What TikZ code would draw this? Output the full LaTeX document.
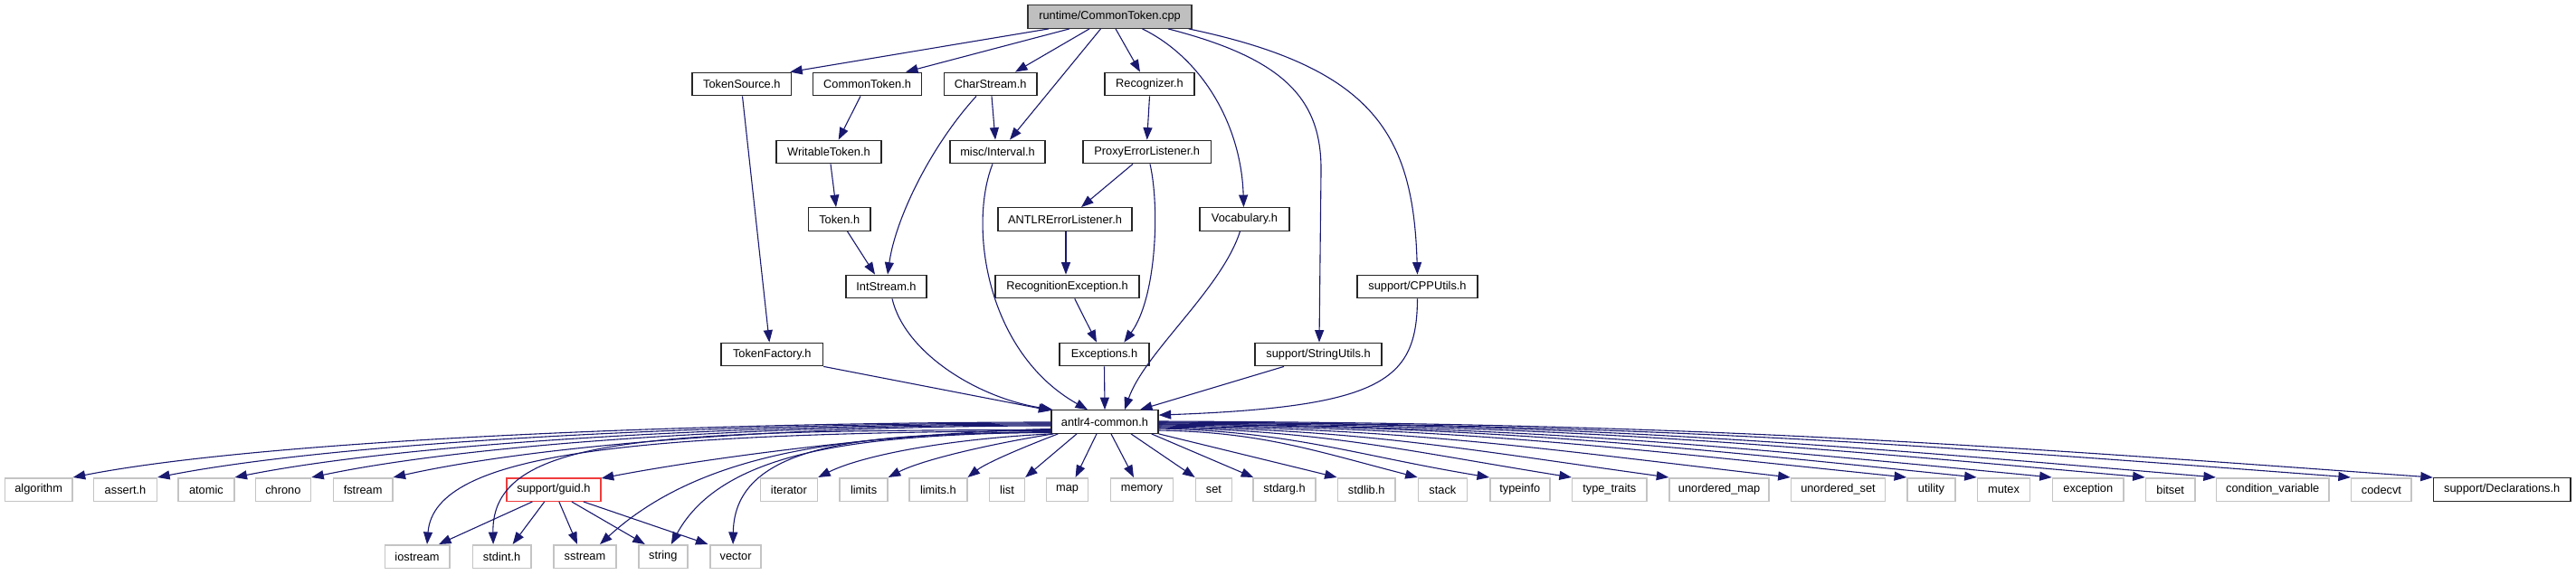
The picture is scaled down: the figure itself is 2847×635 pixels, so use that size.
\documentclass[tikz,border=0pt]{standalone}
\usepackage{fontspec}
\setmainfont{Liberation Sans}
\usetikzlibrary{arrows.meta}
\definecolor{edgec}{HTML}{191970}
\definecolor{grayb}{HTML}{C4C4C4}
\definecolor{redb}{HTML}{F03C3C}
\definecolor{rootf}{HTML}{BFBFBF}
\begin{document}
\begin{tikzpicture}[x=1pt,y=-1pt,
  every node/.style={font=\fontsize{12.8}{15}\selectfont, inner sep=0pt, minimum height=25.5pt, rectangle, anchor=center},
  doc/.style={draw=black!85, line width=1.3pt, fill=white},
  sys/.style={draw=grayb, line width=1.5pt, fill=white},
  trunc/.style={draw=redb, line width=1.5pt, fill=white},
  rootn/.style={draw=black!80, line width=1.3pt, fill=rootf},
  edge/.style={draw=edgec, line width=1.1pt, -{Triangle[length=13.5pt,width=10pt]}},
]
\useasboundingbox (0,0) rectangle (2847,635);

% row 0
\node[rootn, minimum width=181pt] (root) at (1226.5,18.5) {runtime/CommonToken.cpp};
% row 1
\node[doc, minimum width=109.5pt] (tsrc) at (819.8,93) {TokenSource.h};
\node[doc, minimum width=120pt] (ctok) at (958.6,93) {CommonToken.h};
\node[doc, minimum width=102.7pt] (chs) at (1094.7,93) {CharStream.h};
\node[doc, minimum width=99pt] (rec) at (1270.5,93) {Recognizer.h};
% row 2
\node[doc, minimum width=116pt] (wtok) at (916,168) {WritableToken.h};
\node[doc, minimum width=105pt] (intv) at (1102.5,168) {misc/Interval.h};
\node[doc, minimum width=141.5pt] (pel) at (1267.7,168) {ProxyErrorListener.h};
% row 3
\node[doc, minimum width=68.5pt] (tok) at (927.7,242.5) {Token.h};
\node[doc, minimum width=148pt] (ael) at (1177,242.5) {ANTLRErrorListener.h};
\node[doc, minimum width=99pt] (voc) at (1375.5,242.5) {Vocabulary.h};
% row 4
\node[doc, minimum width=89pt] (ints) at (979.5,317) {IntStream.h};
\node[doc, minimum width=159pt] (recex) at (1179.5,317) {RecognitionException.h};
\node[doc, minimum width=133pt] (cpp) at (1566.5,317) {support/CPPUtils.h};
% row 5
\node[doc, minimum width=112.6pt] (tfac) at (853.3,392) {TokenFactory.h};
\node[doc, minimum width=99pt] (exc) at (1220.5,392) {Exceptions.h};
\node[doc, minimum width=140pt] (sut) at (1457,392) {support/StringUtils.h};
% row 6
\node[doc, minimum width=118pt] (ac) at (1221,466.5) {antlr4-common.h};
% row 7
\node[sys, minimum width=74.5pt] (algorithm) at (42.7,541.5) {algorithm};
\node[sys, minimum width=69.7pt] (assert) at (138.5,541.5) {assert.h};
\node[sys, minimum width=61.7pt] (atomic) at (227.9,541.5) {atomic};
\node[sys, minimum width=61.2pt] (chrono) at (312.9,541.5) {chrono};
\node[sys, minimum width=65.4pt] (fstream) at (401.1,541.5) {fstream};
\node[trunc, minimum width=104.2pt] (guid) at (611.9,541.5) {support/guid.h};
\node[sys, minimum width=63.1pt] (iterator) at (871.9,541.5) {iterator};
\node[sys, minimum width=52.8pt] (limits) at (954.6,541.5) {limits};
\node[sys, minimum width=63.7pt] (limitsh) at (1036.9,541.5) {limits.h};
\node[sys, minimum width=38.8pt] (list) at (1113,541.5) {list};
\node[sys, minimum width=46pt] (map) at (1179.6,541.5) {map};
\node[sys, minimum width=69.1pt] (memory) at (1262,541.5) {memory};
\node[sys, minimum width=40pt] (set) at (1341.4,541.5) {set};
\node[sys, minimum width=69pt] (stdarg) at (1419.5,541.5) {stdarg.h};
\node[sys, minimum width=63.7pt] (stdlib) at (1510.2,541.5) {stdlib.h};
\node[sys, minimum width=53.9pt] (stack) at (1594.4,541.5) {stack};
\node[sys, minimum width=66.1pt] (typeinfo) at (1679.8,541.5) {typeinfo};
\node[sys, minimum width=82.4pt] (typetraits) at (1778.8,541.5) {type\_traits};
\node[sys, minimum width=110.2pt] (umap) at (1900.1,541.5) {unordered\_map};
\node[sys, minimum width=104.2pt] (uset) at (2031.5,541.5) {unordered\_set};
\node[sys, minimum width=53.4pt] (utility) at (2134.5,541.5) {utility};
\node[sys, minimum width=58.2pt] (mutex) at (2214.5,541.5) {mutex};
\node[sys, minimum width=78.8pt] (exception) at (2307.8,541.5) {exception};
\node[sys, minimum width=54.6pt] (bitset) at (2398.7,541.5) {bitset};
\node[sys, minimum width=124.2pt] (condvar) at (2511.7,541.5) {condition\_variable};
\node[sys, minimum width=66.6pt] (codecvt) at (2631.9,541.5) {codecvt};
\node[doc, minimum width=151.5pt] (decl) at (2765.2,541.5) {support/Declarations.h};
% row 8
\node[sys, minimum width=71.5pt] (iostream) at (461,615.5) {iostream};
\node[sys, minimum width=64.7pt] (stdint) at (554.6,615.5) {stdint.h};
\node[sys, minimum width=69pt] (sstream) at (646.5,615.5) {sstream};
\node[sys, minimum width=54pt] (string) at (732.8,615.5) {string};
\node[sys, minimum width=55.8pt] (vector) at (813.1,615.5) {vector};

% edges from root
\draw[edge] ([xshift=-67.5pt]root.south) -- ([xshift=-2pt]tsrc.north east);
\draw[edge] ([xshift=-44.5pt]root.south) -- ([xshift=42.4pt]ctok.north);
\draw[edge] ([xshift=-22.5pt]root.south) -- ([xshift=27.3pt]chs.north);
\draw[edge] ([xshift=-10pt]root.south) -- ([xshift=13.5pt]intv.north);
\draw[edge] ([xshift=6.5pt]root.south) -- ([xshift=-10.5pt]rec.north);
\draw[edge] ([xshift=36pt]root.south) .. controls (1330,65) and (1372,140) .. ([xshift=-1pt]voc.north);
\draw[edge] ([xshift=64.5pt]root.south) .. controls (1420,65) and (1461,110) .. (1460,190) -- ([xshift=1pt]sut.north);
\draw[edge] ([xshift=-4pt]root.south east) .. controls (1520,75) and (1562,150) .. (cpp.north);

% middle edges
\draw[edge] ([xshift=0.7pt]tsrc.south) -- ([xshift=-3pt]tfac.north);
\draw[edge] ([xshift=-7.6pt]ctok.south) -- ([xshift=10.7pt]wtok.north);
\draw[edge] ([xshift=2pt]wtok.south) -- ([xshift=-3.7pt]tok.north);
\draw[edge] ([xshift=8.8pt]tok.south) -- ([xshift=-12.5pt]ints.north);
\draw[edge] ([xshift=-15.7pt]chs.south) .. controls (1030,160) and (990,240) .. ([xshift=1.5pt]ints.north);
\draw[edge] ([xshift=1.3pt]chs.south) -- ([xshift=-2.5pt]intv.north);
\draw[edge] (rec.south) -- (pel.north);
\draw[edge] ([xshift=-15.7pt]pel.south) -- ([xshift=18pt]ael.north);
\draw[edge] ([xshift=3.3pt]pel.south) .. controls (1282,230) and (1278,330) .. ([xshift=21.8pt]exc.north);
\draw[edge] ([xshift=1pt]ael.south) -- ([xshift=-1.5pt]recex.north);
\draw[edge] ([xshift=8.2pt]recex.south) -- ([xshift=-8.5pt]exc.north);
\draw[edge] ([xshift=-5.5pt]intv.south) .. controls (1070,250) and (1090,390) .. ([xshift=-19pt]ac.north);
\draw[edge] ([xshift=-5pt]voc.south) .. controls (1350,320) and (1265,390) .. ([xshift=22pt]ac.north);
\draw[edge] ([xshift=6.5pt]ints.south) .. controls (1000,390) and (1080,440) .. ([xshift=2pt]ac.north west);
\draw[edge] (tfac.south east) -- ([yshift=-1pt]ac.north west);
\draw[edge] (exc.south) -- (ac.north);
\draw[edge] ([xshift=-38pt]sut.south) -- ([xshift=39pt]ac.north);
\draw[edge] (cpp.south) .. controls (1566,420) and (1530,450) .. ([yshift=-6pt]ac.north east);

% antlr4-common to the left
\draw[edge] ([yshift=-0.5pt]ac.west) .. controls (800,467) and (300,485) .. (algorithm.north east);
\draw[edge] ([yshift=-1.5pt]ac.west) .. controls (820,468) and (390,486) .. (assert.north east);
\draw[edge] ([yshift=-2.5pt]ac.west) .. controls (840,469) and (460,488) .. (atomic.north east);
\draw[edge] ([yshift=-3.5pt]ac.west) .. controls (860,470) and (530,489) .. (chrono.north east);
\draw[edge] ([yshift=-4.5pt]ac.west) .. controls (880,471) and (600,491) .. (fstream.north east);
\draw[edge] ([yshift=-8pt]ac.west) .. controls (1000,478) and (790,505) .. ([yshift=-1pt]guid.north east);
\draw[edge] ([yshift=-10pt]ac.west) .. controls (700,479) and (480,500) .. ([xshift=11pt]iostream.north);
\draw[edge] ([yshift=-9pt]ac.west) .. controls (720,476) and (543,482) .. ([xshift=-9.5pt]stdint.north);
\draw[edge] ([yshift=-11pt]ac.west) .. controls (950,480) and (780,495) .. ([xshift=16.5pt]sstream.north);
\draw[edge] ([yshift=-11.5pt]ac.west) .. controls (960,481) and (800,495) .. ([xshift=9pt]string.north);
\draw[edge] ([yshift=-12pt]ac.west) .. controls (960,479) and (812,488) .. ([xshift=-3pt]vector.north);
\draw[edge] (ac.south west) .. controls (1040,486) and (950,505) .. (iterator.north east);
\draw[edge] ([xshift=3pt]ac.south west) .. controls (1100,490) and (1020,508) .. (limits.north east);
\draw[edge] ([xshift=8pt]ac.south west) .. controls (1130,495) and (1090,512) .. (limitsh.north east);
\draw[edge] ([xshift=-31pt]ac.south) -- (list.north east);
\draw[edge] ([xshift=-9pt]ac.south) -- ([xshift=9pt]map.north);
\draw[edge] ([xshift=7pt]ac.south) -- ([xshift=-9pt]memory.north);
\draw[edge] ([xshift=29pt]ac.south) -- (set.north west);
\draw[edge] ([xshift=-8pt]ac.south east) -- ([xshift=1pt]stdarg.north west);
\draw[edge] (ac.south east) -- (stdlib.north west);

% antlr4-common to the right
\draw[edge] ([yshift=-9.5pt]ac.east) .. controls (1394,478) and (1451,498) .. (stack.north west);
\draw[edge] ([yshift=-7.5pt]ac.east) .. controls (1427,477) and (1500,504) .. (typeinfo.north west);
\draw[edge] ([yshift=-6.5pt]ac.east) .. controls (1463,476) and (1555,499) .. (typetraits.north west);
\draw[edge] ([yshift=-5.5pt]ac.east) .. controls (1506,475) and (1619,497) .. (umap.north west);
\draw[edge] ([yshift=-4.5pt]ac.east) .. controls (1560,474) and (1700,496) .. (uset.north west);
\draw[edge] ([yshift=-3.5pt]ac.east) .. controls (1611,473) and (1777,494) .. (utility.north west);
\draw[edge] ([yshift=-2.5pt]ac.east) .. controls (1642,472) and (1823,491) .. (mutex.north west);
\draw[edge] ([yshift=-2.5pt]ac.east) .. controls (1675,471) and (1873,490) .. (exception.north west);
\draw[edge] ([yshift=-1.5pt]ac.east) .. controls (1716,470) and (1935,489) .. (bitset.north west);
\draw[edge] ([yshift=-0.5pt]ac.east) .. controls (1748,469) and (1982,488) .. (condvar.north west);
\draw[edge] ([yshift=-0.5pt]ac.east) .. controls (1808,469) and (2071,488) .. (codecvt.north west);
\draw[edge] ([yshift=0.5pt]ac.east) .. controls (1844,468) and (2125,487) .. (decl.north west);

% guid to row 8
\draw[edge] ([xshift=-23.6pt]guid.south) -- ([xshift=24pt]iostream.north);
\draw[edge] ([xshift=-10.2pt]guid.south) -- ([xshift=12pt]stdint.north);
\draw[edge] ([xshift=6pt]guid.south) -- ([xshift=-8.5pt]sstream.north);
\draw[edge] ([xshift=20pt]guid.south) -- ([xshift=-20pt]string.north);
\draw[edge] ([xshift=33pt]guid.south) -- ([xshift=-2pt]vector.north west);
\end{tikzpicture}
\end{document}
